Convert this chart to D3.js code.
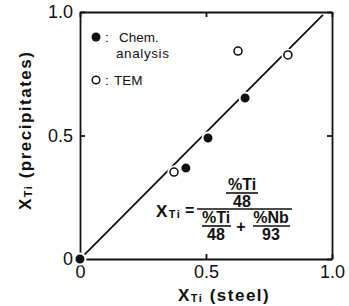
<!DOCTYPE html>
<html lang="en">
<head>
  <meta charset="UTF-8">
  <title>x_Ti precipitates vs steel</title>
  <style>
    body { margin: 0; background: #fff; }
    svg { display: block; font-family: "Liberation Sans", Arial, sans-serif; }
    .axis path, .axis line { stroke: #111; stroke-width: 1.8px; }
    .axis text { font-size: 18px; fill: #111; font-family: "Liberation Sans", Arial, sans-serif; }
    .lbl { font-size: 17px; font-weight: bold; fill: #111; letter-spacing: 1.5px; }
    .leg { font-size: 13.5px; fill: #111; }
    .frm { font-size: 16px; font-weight: bold; fill: #111; }
  </style>
</head>
<body>
<div id="chart"></div>
<script src="https://d3js.org/d3.v7.min.js"></script>
<script>
  // tick values + labels
  const ticks = [0, 0.5, 1.0]
  const tickLabels = ['0', '0.5', '1.0']

  // filled = chemical analysis, open = TEM
  const chemX = [0, 0.42, 0.508, 0.655]
  const chemY = [0, 0.368, 0.49, 0.652]
  const temX = [0.373, 0.627, 0.825]
  const temY = [0.352, 0.842, 0.826]

  // the diagonal drawn through the points
  const lineX = [0.012, 0.964]
  const lineY = [0.012, 0.988]

  const W = 349, H = 306
  const pL = 80, pR = 332, pT = 12, pB = 259

  const x = d3.scaleLinear().domain([0, 1]).range([pL, pR])
  const y = d3.scaleLinear().domain([0, 1]).range([pB, pT])

  const svg = d3.select('#chart').append('svg')
    .attr('width', W)
    .attr('height', H)

  // axes on all four sides, ticks point inward
  svg.append('g')
    .attr('class', 'axis')
    .attr('transform', `translate(0,${pB})`)
    .call(d3.axisBottom(x).tickValues(ticks).tickFormat((d, i) => tickLabels[i])
      .tickSizeInner(-5).tickSizeOuter(0).tickPadding(6))

  svg.append('g')
    .attr('class', 'axis')
    .attr('transform', `translate(${pL},0)`)
    .call(d3.axisLeft(y).tickValues(ticks).tickFormat((d, i) => tickLabels[i])
      .tickSizeInner(-5).tickSizeOuter(0).tickPadding(7))

  svg.append('g')
    .attr('class', 'axis')
    .attr('transform', `translate(0,${pT})`)
    .call(d3.axisTop(x).tickValues(ticks).tickFormat('')
      .tickSizeInner(-5).tickSizeOuter(0))

  svg.append('g')
    .attr('class', 'axis')
    .attr('transform', `translate(${pR},0)`)
    .call(d3.axisRight(y).tickValues(ticks).tickFormat('')
      .tickSizeInner(-5).tickSizeOuter(0))

  // diagonal line
  svg.append('path')
    .datum(lineX.map((d, i) => [d, lineY[i]]))
    .attr('d', d3.line().x(d => x(d[0])).y(d => y(d[1])))
    .attr('fill', 'none')
    .attr('stroke', '#111')
    .attr('stroke-width', 1.8)

  // points (white halo breaks the line like in the print)
  svg.selectAll('.chem')
    .data(chemX.map((d, i) => [d, chemY[i]]))
    .enter().append('circle')
    .attr('class', 'chem')
    .attr('cx', d => x(d[0]))
    .attr('cy', d => y(d[1]))
    .attr('r', 5.5)
    .attr('fill', '#111')
    .attr('stroke', '#fff')
    .attr('stroke-width', 2)

  svg.selectAll('.tem-halo')
    .data(temX.map((d, i) => [d, temY[i]]))
    .enter().append('circle')
    .attr('cx', d => x(d[0]))
    .attr('cy', d => y(d[1]))
    .attr('r', 6.5)
    .attr('fill', '#fff')

  svg.selectAll('.tem')
    .data(temX.map((d, i) => [d, temY[i]]))
    .enter().append('circle')
    .attr('class', 'tem')
    .attr('cx', d => x(d[0]))
    .attr('cy', d => y(d[1]))
    .attr('r', 4)
    .attr('fill', '#fff')
    .attr('stroke', '#111')
    .attr('stroke-width', 1.6)

  // legend
  const leg = svg.append('g').attr('transform', 'translate(96,37)')
  leg.append('circle').attr('r', 4.5).attr('fill', '#111')
  leg.append('text').attr('class', 'leg').attr('x', 9).attr('y', 5).text(':')
  leg.append('text').attr('class', 'leg').attr('x', 23).attr('y', 5).text('Chem.')
  leg.append('text').attr('class', 'leg').attr('x', 20).attr('y', 21)
    .attr('letter-spacing', 0.6).text('analysis')
  leg.append('circle').attr('cy', 43).attr('r', 3.8)
    .attr('fill', '#fff').attr('stroke', '#111').attr('stroke-width', 1.5)
  leg.append('text').attr('class', 'leg').attr('x', 9).attr('y', 48).text(':')
  leg.append('text').attr('class', 'leg').attr('x', 18).attr('y', 48).text('TEM')

  // axis titles
  const xl = svg.append('text').attr('class', 'lbl')
    .attr('x', 178).attr('y', 301)
  xl.append('tspan').text('X')
  xl.append('tspan').attr('font-size', 11).attr('dy', 1).text('Ti')
  xl.append('tspan').attr('dy', -1).text(' (steel)')

  const yl = svg.append('text').attr('class', 'lbl')
    .attr('transform', 'translate(31,210) rotate(-90)')
  yl.append('tspan').text('X')
  yl.append('tspan').attr('font-size', 11).attr('dy', 1).text('Ti')
  yl.append('tspan').attr('dy', -1).text(' (precipitates)')

  // formula
  const f = svg.append('g')
  const xt = f.append('text').attr('class', 'lbl').attr('x', 156).attr('y', 217)
  xt.append('tspan').text('X')
  xt.append('tspan').attr('font-size', 11).attr('dy', 1).text('Ti')
  f.append('text').attr('class', 'frm').attr('x', 185).attr('y', 216).text('=')

  const bar = (x1, x2, yy) => f.append('line')
    .attr('x1', x1).attr('x2', x2).attr('y1', yy).attr('y2', yy)
    .attr('stroke', '#111').attr('stroke-width', 1.6)
  const txt = (cx, yy, s) => f.append('text').attr('class', 'frm')
    .attr('x', cx).attr('y', yy).attr('text-anchor', 'middle').text(s)

  txt(242, 190, '%Ti')
  bar(226, 258, 193)
  txt(242, 207, '48')
  bar(197, 292, 209)
  txt(216, 223, '%Ti')
  bar(202, 231, 226)
  txt(216, 240, '48')
  txt(241, 232, '+')
  txt(271, 223, '%Nb')
  bar(253, 290, 226)
  txt(271, 240, '93')
</script>
</body>
</html>
